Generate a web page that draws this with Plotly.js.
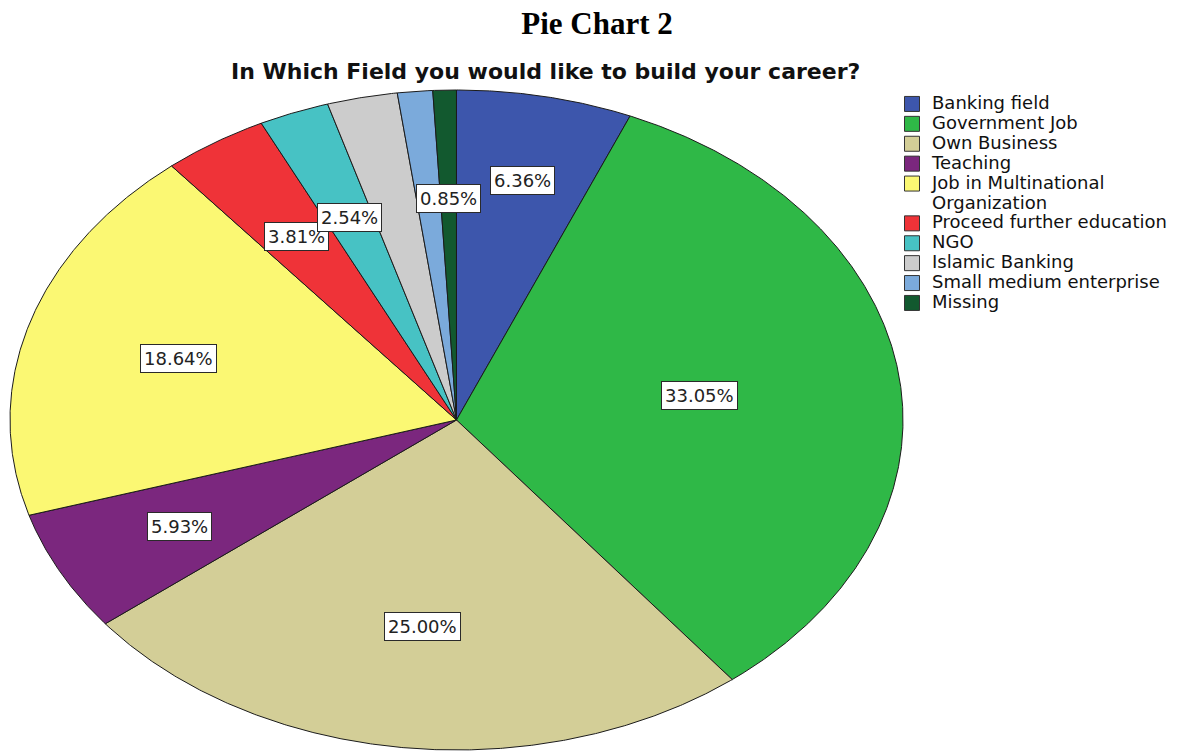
<!DOCTYPE html>
<html><head><meta charset="utf-8">
<script src="https://cdn.plot.ly/plotly-3.0.1.min.js"></script>
<style>html,body{margin:0;padding:0;overflow:hidden;background:#fff}</style>
</head><body><div id="chart" style="width:1181px;height:760px"></div>
<script>
// ---------------- DATA ----------------
const categories = ['Banking field','Government Job','Own Business','Teaching','Job in Multinational Organization','Proceed further education','NGO','Islamic Banking','Small medium enterprise','Missing'];
const counts = [15, 78, 59, 14, 44, 9, 6, 6, 3, 2];
const legendLabels = ['Banking field','Government Job','Own Business','Teaching','Job in Multinational<br>Organization','Proceed further education','NGO','Islamic Banking','Small medium enterprise','Missing'];
const labelledSlices = ['Banking field','Government Job','Own Business','Teaching','Job in Multinational Organization','Proceed further education','NGO','Missing'];
const mainTitle = 'Pie Chart 2';
const chartTitle = 'In Which Field you would like to build your career?';

// ---------------- STYLE ----------------
const colors = ['#3D56AC','#2FB847','#D3CE97','#7B277E','#FBF873','#EF3338','#47C2C4','#CCCCCC','#7BAADB','#12592F'];
const labelRadius = [0.74, 0.55, 0.63, 0.70, 0.65, 0.66, 0.66, 0.66, 0.66, 0.67];
const W = 1181, H = 760;
const cx = 456.5, cy = 420, rx = 446.5, ry = 330, pad = 1.01;

// ---------------- BUILD ----------------
const total = counts.reduce((a, b) => a + b, 0);
const traces = [];
const annotations = [];
let cum = 0;
counts.forEach((v, i) => {
  const a0 = cum / total * 2 * Math.PI;
  cum += v;
  const a1 = cum / total * 2 * Math.PI;
  const n = Math.max(2, Math.ceil((a1 - a0) / (0.25 * Math.PI / 180)));
  const xs = [0], ys = [0];
  for (let k = 0; k <= n; k++) {
    const a = a0 + (a1 - a0) * k / n;
    xs.push(Math.sin(a)); ys.push(Math.cos(a));
  }
  xs.push(0); ys.push(0);
  const pct = (v / total * 100).toFixed(2) + '%';
  traces.push({
    type: 'scatter', mode: 'lines', x: xs, y: ys, fill: 'toself',
    fillcolor: colors[i], line: {color: '#1b1b1b', width: 1},
    name: categories[i], showlegend: false, hoverinfo: 'text',
    text: categories[i] + ': ' + pct, hoveron: 'fills'
  });
  if (labelledSlices.includes(categories[i])) {
    const m = (a0 + a1) / 2, r = labelRadius[i];
    annotations.push({
      x: r * Math.sin(m), y: r * Math.cos(m), xref: 'x', yref: 'y',
      text: pct, showarrow: false, bgcolor: '#ffffff', bordercolor: '#2a2a2a',
      borderwidth: 1, borderpad: 3,
      font: {family: 'DejaVu Sans', size: 18, color: '#222'}
    });
  }
});
// legend entries (square swatches); wrapped names continue on a swatch-less row
categories.forEach((c, i) => {
  const lines = legendLabels[i].split('<br>');
  lines.forEach((s, j) => {
    traces.push({
      type: 'scatter', mode: 'markers', x: [null], y: [null],
      name: '<span style="font-size:18px">' + s + '</span>',
      legendgroup: c,
      marker: j === 0
        ? {symbol: 'square', size: 15, color: colors[i], line: {color: '#333', width: 1}}
        : {symbol: 'square', size: 15, color: 'rgba(0,0,0,0)', line: {color: 'rgba(0,0,0,0)', width: 0}},
      showlegend: true, hoverinfo: 'skip'
    });
  });
});

annotations.push({
  xref: 'paper', yref: 'paper', x: 545 / W, y: 1 - 72 / H, xanchor: 'center', yanchor: 'middle',
  text: chartTitle, showarrow: false,
  font: {family: 'DejaVu Sans', size: 22, color: '#111', weight: 'bold'}
});

const layout = {
  width: W, height: H, margin: {l: 0, r: 0, t: 0, b: 0},
  paper_bgcolor: '#fff', plot_bgcolor: 'rgba(0,0,0,0)',
  title: {text: mainTitle, x: 597 / W, xanchor: 'center', xref: 'paper', yref: 'container', y: 1 - 23 / H, yanchor: 'middle',
    font: {family: 'Liberation Serif', size: 31, color: '#000', weight: 'bold'}},
  xaxis: {visible: false, range: [-pad, pad], domain: [(cx - rx * pad) / W, (cx + rx * pad) / W], fixedrange: true},
  yaxis: {visible: false, range: [-pad, pad], domain: [1 - (cy + ry * pad) / H, 1 - (cy - ry * pad) / H], fixedrange: true},
  showlegend: true,
  legend: {x: 892 / W, xanchor: 'left', y: 1 - 89 / H, yanchor: 'top', traceorder: 'normal',
    font: {family: 'DejaVu Sans', size: 13, color: '#111'}, itemsizing: 'trace', itemwidth: 30,
    bgcolor: 'rgba(0,0,0,0)', borderwidth: 0, tracegroupgap: 0},
  annotations: annotations
};
Plotly.newPlot('chart', traces, layout, {displayModeBar: false, responsive: false});
</script></body></html>
